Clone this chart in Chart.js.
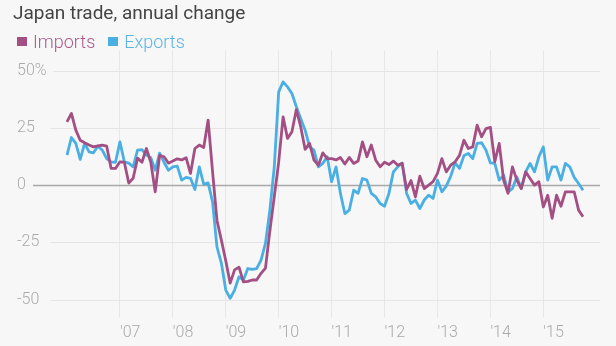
<!DOCTYPE html>
<html>
<head>
<meta charset="utf-8">
<script src="https://cdn.jsdelivr.net/npm/chart.js@4.4.1/dist/chart.umd.min.js"></script>
<style>
  body { margin: 0; background: #f7f7f7; font-family: Roboto, sans-serif; }
  #wrap { position: relative; width: 616px; height: 346px; overflow: hidden; }
  #chartBox { position: absolute; left: 0; top: 0; width: 616px; height: 346px; }
  #title { position: absolute; left: 13px; top: 1px; font-size: 19px; color: #444; white-space: nowrap; }
  #legend { position: absolute; left: 17px; top: 31px; font-size: 18px; font-weight: 300; white-space: nowrap; }
  .key { display: inline-block; width: 10px; height: 9px; margin-right: 6px; vertical-align: 2px; }
  .item + .item { margin-left: 13px; }
</style>
</head>
<body>
<div id="wrap">
  <div id="chartBox"><canvas id="tradeChart"></canvas></div>
  <div id="title">Japan trade, annual change</div>
  <div id="legend"></div>
</div>
<script>
// Monthly year-on-year change, %, Jan 2006 - Oct 2015
const imports = [
  27.6, 31.3, 24, 19.6, 18.5, 17.5, 16.7, 17.1, 17.5, 17, 7.3, 7.3,        // 2006
  10.2, 10, 0.9, 3, 11.8, 10, 16, 10, -2.9, 13, 12.4, 9.6,                 // 2007
  10.5, 11.5, 11, 12, 5.1, 16, 17.5, 16.4, 28.4, 6, -15.3, -24,            // 2008
  -33, -42.8, -37, -35.8, -42.2, -42, -41.4, -41.4, -38.5, -36.2, -20, -5, // 2009
  10, 29.8, 20.4, 23.3, 33, 25.4, 15.6, 18.2, 10.9, 8.7, 14.1, 11.6,       // 2010
  11.6, 11, 12.1, 9.2, 12.1, 9.5, 10.5, 18.9, 12.4, 17.5, 10.9, 8,         // 2011
  10, 9, 10.5, 8.7, 9.5, -1.9, 2, -5.1, 3.9, -1.5, 0, 1.5,                 // 2012
  5.1, 11.6, 5.8, 8.7, 10.2, 13, 19.6, 16, 16.7, 26.2, 21.1, 24.7,         // 2013
  25.2, 10.2, 18.2, 2.2, -3.6, 8, 2.2, -1.5, 5.8, 2.9, 0, 1.5,             // 2014
  -9.5, -4.4, -14.5, -4.4, -9.2, -2.9, -2.9, -2.9, -10.9, -13.8            // 2015
];
const exports = [
  13.1, 20.8, 18.2, 11.2, 18.2, 14.5, 14.1, 17, 15.3, 11.6, 10.2, 10,
  18.9, 10.2, 9.6, 8, 15.3, 15.5, 13.1, 12, 6.5, 14, 10, 6.5,
  8, 8.3, 2.2, 3.4, 3, -1.9, 8, 0.4, 1, -7.3, -27, -34,
  -45.8, -49.4, -45.8, -40, -41.4, -36.4, -36.8, -36.4, -32.7, -25.4, -10.9, 8,
  40.7, 45.1, 42.9, 40, 34.2, 29, 24, 16.7, 15.3, 8, 9.5, 12.4,
  1.5, 8, -3.6, -12.4, -10.9, -2.2, -3.6, 2.9, 2.2, -3.6, -5.1, -8,
  -9.2, -3.6, 5.8, 8, 9.7, -3.6, -8, -6.5, -10.2, -6.5, -4.4, -5.8,
  2.2, -2.9, -0.4, 3.9, 9.7, 7.3, 12.9, 13.8, 11.6, 18.2, 18.5, 15.3,
  9.7, 9.5, 2.2, 4.4, -2.9, -1.5, 3.6, -1.5, 5.8, 9.5, 5.8, 12.4,
  16.7, 2.2, 8, 8, 2.2, 9.5, 8, 3.4, 0.7, -2.2
];

// month labels, "2006-01" ... "2015-10"
const months = [];
for (let y = 2006; y <= 2015; y++) {
  for (let m = 1; m <= 12; m++) {
    if (y === 2015 && m > 10) break;
    months.push(y + '-' + String(m).padStart(2, '0'));
  }
}

const yTicks = [-50, -25, 0, 25, 50];

const series = [
  { label: 'Imports', data: imports, color: '#a34f84', text: '#a85a8c' },
  { label: 'Exports', data: exports, color: '#4aafe2', text: '#5ab5e4' }
];

// legend
const legend = document.getElementById('legend');
series.forEach(s => {
  const item = document.createElement('span');
  item.className = 'item';
  item.style.color = s.text;
  item.innerHTML = '<span class="key" style="background:' + s.color + '"></span>' + s.label;
  legend.appendChild(item);
});

// horizontal rules start just after each y label, zero line darker
const yGridLines = {
  id: 'yGridLines',
  beforeDatasetsDraw(chart) {
    const { ctx, scales: { y } } = chart;
    ctx.save();
    ctx.font = '300 16px Roboto';
    y.ticks.forEach(t => {
      const py = Math.round(y.getPixelForValue(t.value)) + 0.5;
      const labelEnd = y.left + ctx.measureText(t.label).width;
      let x0 = Math.max(50, labelEnd + 7);
      ctx.beginPath();
      if (t.value === 0) {
        x0 = labelEnd + 7;
        ctx.strokeStyle = '#a8a8a8';
        ctx.lineWidth = 1.5;
      } else {
        ctx.strokeStyle = '#e5e5e5';
        ctx.lineWidth = 1;
      }
      ctx.moveTo(x0, py);
      ctx.lineTo(600, py);
      ctx.stroke();
    });
    ctx.restore();
  }
};

new Chart(document.getElementById('tradeChart'), {
  type: 'line',
  data: {
    labels: months,
    datasets: series.map(s => ({
      label: s.label,
      data: s.data,
      borderColor: s.color,
      borderWidth: 2.8,
      pointRadius: 0,
      tension: 0,
      borderJoinStyle: 'round',
      fill: false
    }))
  },
  options: {
    responsive: true,
    maintainAspectRatio: false,
    animation: false,
    layout: { padding: { left: 17, top: 50, right: 33, bottom: 0 } },
    plugins: { legend: { display: false }, tooltip: { enabled: false } },
    scales: {
      x: {
        type: 'category',
        offset: false,
        afterBuildTicks: scale => {
          scale.ticks = months
            .map((m, i) => ({ value: i, m }))
            .filter(t => t.m.endsWith('-01') && t.m !== '2006-01')
            .map(t => ({ value: t.value }));
        },
        afterFit: scale => { scale.height = 28; },
        grid: { color: '#e8e8e8', lineWidth: 1, drawTicks: false },
        border: { display: false },
        ticks: {
          autoSkip: false,
          maxRotation: 0,
          align: 'start',
          padding: 5,
          color: '#aaaaaa',
          font: { family: 'Roboto', size: 16, weight: '300' },
          callback: function (value) {
            return "'" + this.getLabelForValue(value).slice(2, 4);
          }
        }
      },
      y: {
        min: -58,
        max: 59,
        afterBuildTicks: scale => { scale.ticks = yTicks.map(v => ({ value: v })); },
        afterFit: scale => { scale.width = 50; },
        grid: { display: false },
        border: { display: false },
        ticks: {
          crossAlign: 'far',
          padding: 0,
          color: '#aaaaaa',
          font: { family: 'Roboto', size: 16, weight: '300' },
          callback: v => (v === 50 ? '50%' : String(v))
        }
      }
    }
  },
  plugins: [yGridLines]
});
</script>
</body>
</html>
